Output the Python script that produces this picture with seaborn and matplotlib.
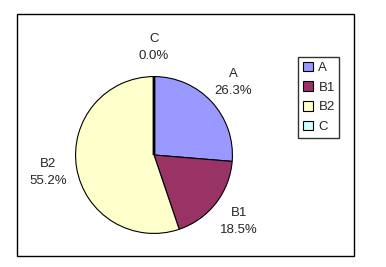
import matplotlib
matplotlib.use("Agg")
import matplotlib.pyplot as plt
import seaborn as sns
from matplotlib.patches import Rectangle, Patch

categories = ["A", "B1", "B2", "C"]
values = [26.3, 18.5, 55.2, 0.0]
colors = ["#9999FF", "#993366", "#FFFFCC", "#CCFFFF"]

sns.set_style("white")
plt.rcParams['font.family'] = ['Liberation Sans', 'DejaVu Sans']

W, H = 386, 267
fig = plt.figure(figsize=(W / 100, H / 100), dpi=100)
fig.patch.set_facecolor("white")

# outer frame
fig.patches.append(Rectangle((17 / W, 1 - 256 / H), (354 - 17) / W, (256 - 14) / H,
                             transform=fig.transFigure, fill=False,
                             edgecolor="black", linewidth=1.0))

cx, cy, r = 154, 155, 80
ax = fig.add_axes([(cx - r) / W, 1 - (cy + r) / H, 2 * r / W, 2 * r / H])
labels = [f"{c}\n{v:.1f}%" for c, v in zip(categories, values)]
wedges, texts = ax.pie(values, colors=colors, labels=labels, startangle=90,
                       counterclock=False, labeldistance=1.37,
                       wedgeprops=dict(edgecolor="black", linewidth=0.8),
                       textprops=dict(fontsize=9.5, linespacing=1.55))
for t in texts:
    t.set_ha("center")
    t.set_va("center")
    t.set_clip_on(False)
# zero-size slice shows as a heavier boundary line
wedges[-1].set_linewidth(2.0)
ax.set_xlim(-1.02, 1.02)
ax.set_ylim(-1.02, 1.02)
ax.set_aspect("auto")
ax.axis("off")

handles = [Patch(facecolor=c, edgecolor="black", linewidth=0.8) for c in colors]
leg = fig.legend(handles, categories, loc="upper left",
                 bbox_to_anchor=(298 / W, 1 - 57 / H), frameon=True,
                 fancybox=False, fontsize=9.5, handlelength=0.75, handleheight=0.75,
                 handletextpad=0.45, labelspacing=0.55, borderpad=0.35,
                 borderaxespad=0)
leg.get_frame().set_edgecolor("black")
leg.get_frame().set_linewidth(1.0)

fig.savefig("out.png", dpi=100)
